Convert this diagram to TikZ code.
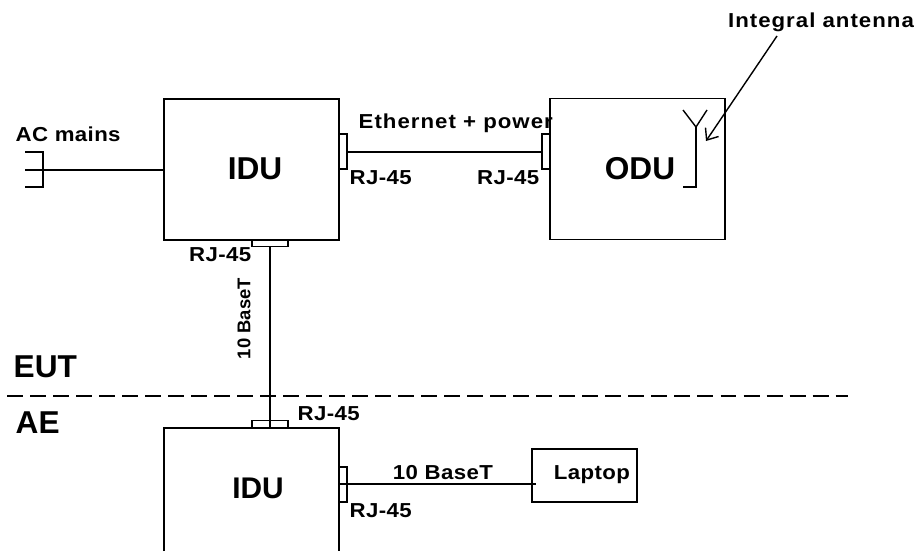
\documentclass[tikz,border=0pt]{standalone}
\usepackage{fontspec}
\setmainfont{Liberation Sans}
\newfontfamily\lblfont[FakeStretch=1.1,LetterSpace=2]{Liberation Sans}
\newfontfamily\lblwide[FakeStretch=1.1,LetterSpace=5]{Liberation Sans}
\usetikzlibrary{arrows.meta}
\tikzset{
    unitbox/.style={draw, rectangle, minimum width=3.5cm, minimum height=2.82cm, inner sep=0pt},
    unitlbl/.style={inner sep=0pt, font=\bfseries\fontsize{18}{20}\selectfont},
    portv/.style={draw, rectangle, minimum width=0.16cm, minimum height=0.7cm, inner sep=0pt},
    porth/.style={draw, rectangle, minimum width=0.72cm, minimum height=0.14cm, inner sep=0pt},
    lbl/.style={inner sep=0pt, font=\lblfont\bfseries\fontsize{11.5}{13}\selectfont},
    widelbl/.style={inner sep=0pt, font=\lblwide\bfseries\fontsize{11.5}{13}\selectfont},
}
\begin{document}
\begin{tikzpicture}[x=0.02cm, y=-0.02cm, line width=0.8pt]
        \useasboundingbox (0,0) rectangle (916,551);
        \node[unitbox] (idu) at (251.5,169.5) {};
        \node[unitlbl] (idulbl) at (255,169) {IDU};
        \node[unitbox] (odu) at (637.5,169) {};
        \node[unitlbl] (odulbl) at (640,169) {ODU};
        \node[portv] (idur) at (343,151.5) {};
        \node[porth] (idub) at (270,243) {};
        \node[portv] (odul) at (546,151.5) {};
        \draw ([yshift=-0.01cm]idur.east)--([yshift=-0.01cm]odul.west);
        % plug
        \draw (25,152)--(43,152)--(43,187)--(25,187);
        \coordinate (prong) at (25,170);
        \draw (prong)--(idu.west |- prong);
        % antenna
        \coordinate (feed) at (696,127);
        \coordinate (foot) at (696,187);
        \coordinate (tip) at (706,141);
        \draw (683,187)--(foot)--(feed);
        \draw (683,110)--(feed)--(707,110);
        \node[widelbl] (ant) at (821,22) {Integral antenna};
        \draw[-{Straight Barb[length=5.5pt,width=9pt]}] (777,36)--(tip);
        % lower unit
        \node[unitlbl, font=\bfseries\fontsize{17}{20}\selectfont] (idutwo) at (258,488) {IDU};
        \draw (164,551)--(164,428)--(339,428)--(339,551);
        \node[porth] (idut) at (270,424) {};
        \node[portv] (iduq) at (343,484.5) {};
        \node[draw, rectangle, minimum width=2.1cm, minimum height=1.06cm, inner sep=0pt] (laptop) at (584.5,475.5) {};
        \node[lbl] (laptoplbl) at (592,475) {Laptop};
        \coordinate (wireend) at (536,484);
        \draw (idub.south)--(idut.south);
        \draw (idu.east |- wireend)--(wireend);
        % zones
        \draw[dash pattern=on 9.1pt off 4pt] (7,396)--(848,396);
        \node[unitlbl, anchor=west] (eut) at (13,367) {EUT};
        \node[unitlbl, anchor=west] (ae) at (15,423) {AE};
        % labels
        \node[lbl, anchor=west] (acl) at (15,134) {AC mains};
        \node[widelbl, anchor=west] (eth) at (358,123) {Ethernet + power};
        \node[lbl, anchor=west] (rjb) at (349,178) {RJ-45};
        \node[lbl, anchor=east] (rjc) at (540,178) {RJ-45};
        \node[lbl, anchor=east] (rjd) at (252,255) {RJ-45};
        \node[lbl, anchor=west] (rje) at (297,414) {RJ-45};
        \node[lbl, anchor=west] (rjf) at (349,511) {RJ-45};
        \node[inner sep=0pt, rotate=90, font=\bfseries\fontsize{10.5}{12}\selectfont] (basea) at (244,318.5) {10 BaseT};
        \node[lbl] (baseb) at (443,473) {10 BaseT};
    \end{tikzpicture}
\end{document}
